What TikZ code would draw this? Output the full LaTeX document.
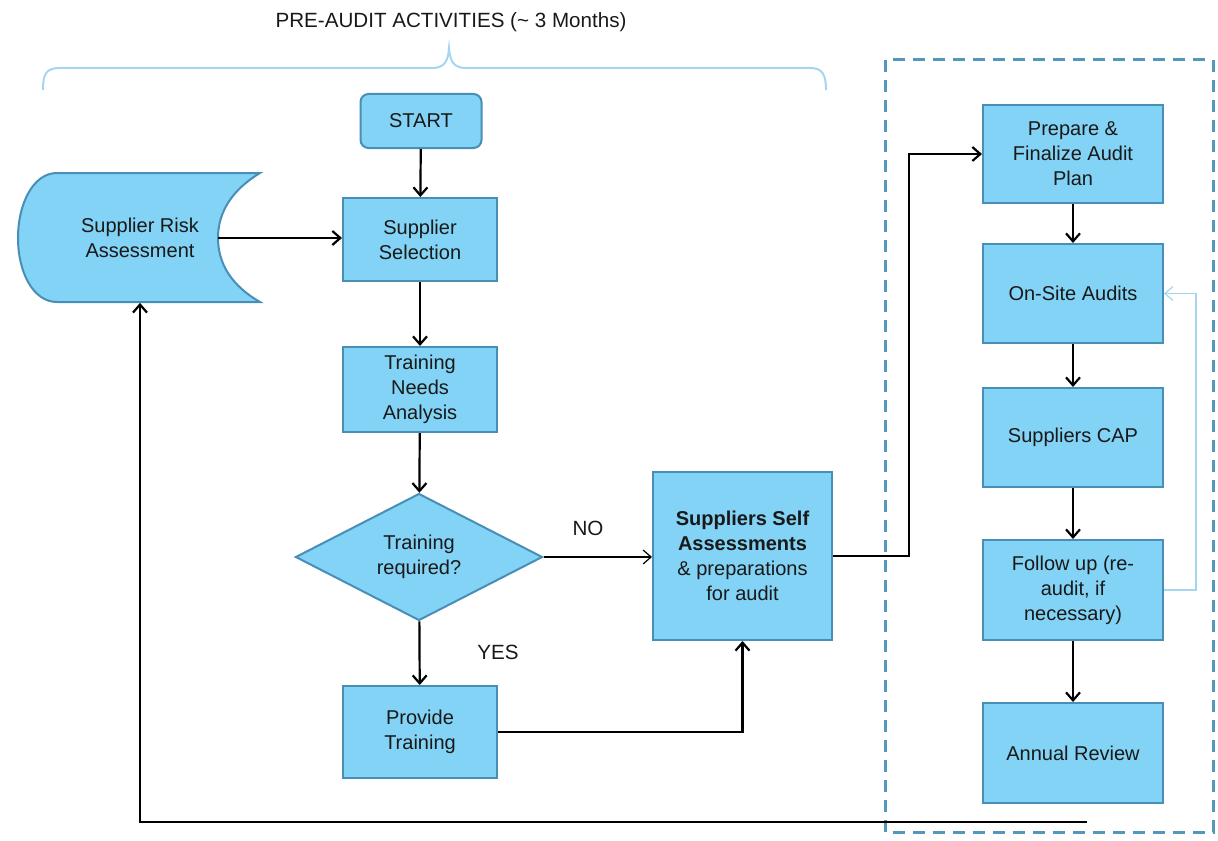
\documentclass[tikz,border=0pt]{standalone}
\usepackage{fontspec}
\setmainfont{Liberation Sans}
\usetikzlibrary{shapes.geometric,arrows.meta,calc}
\definecolor{boxfill}{RGB}{130,211,245}
\definecolor{boxline}{RGB}{72,142,182}
\definecolor{dashcol}{RGB}{84,150,188}
\definecolor{lightline}{RGB}{165,214,240}
\begin{document}
\begin{tikzpicture}[x=0.5pt,y=-0.5pt,
  every node/.style={font=\fontsize{10}{12.5}\selectfont, align=center, text=black!90},
  box/.style={draw=boxline, fill=boxfill, line width=1pt, inner sep=0pt},
  colbox/.style={box, minimum width=77pt},
  rbox/.style={box, minimum width=90pt, minimum height=49.5pt},
  arr/.style={line width=1.1pt, -{Straight Barb[length=4pt,width=7pt]}},
  thinarr/.style={line width=0.6pt, -{Straight Barb[length=4pt,width=7pt]}},
  lightarr/.style={draw=lightline, line width=0.6pt, -{Straight Barb[length=4pt,width=7pt]}},
  lbl/.style={font=\fontsize{10.3}{12}\selectfont}]
\useasboundingbox (0,0) rectangle (1218,840);

% title and brace
\node[lbl] (title) at (451,22) {PRE-AUDIT ACTIVITIES (\textasciitilde{} 3 Months)};
\draw[lightline, line width=1pt] (43,90) .. controls (43,74) and (46,68) .. (60,68) -- (432,68)
  .. controls (444,68) and (448,62) .. (449,48)
  .. controls (450,62) and (454,68) .. (466,68) -- (810,68)
  .. controls (822,68) and (826,74) .. (826,90);

% dashed audit area
\draw[dashcol, line width=1.5pt, dash pattern=on 6pt off 4pt] (885,60) rectangle (1213,832);

% supplier risk assessment shape
\draw[box] (57,173) -- (260,173) .. controls (232,190) and (218,212) .. (218,238)
  .. controls (218,264) and (232,286) .. (260,302) -- (57,302)
  .. controls (33,302) and (18,272) .. (18,238)
  .. controls (18,204) and (33,173) .. (57,173) -- cycle;
\node[minimum width=78pt, minimum height=64.5pt, inner sep=0pt] (sra) at (140,238) {Supplier Risk\\Assessment};

% middle column
\node[box, rounded corners=4pt, minimum width=60.5pt, minimum height=27pt] (start) at (421,121) {START};
\node[colbox, minimum height=41.5pt] (sel) at (420,239.5) {Supplier\\Selection};
\node[colbox, minimum height=42.5pt] (tna) at (420,389.5) {Training\\Needs\\Analysis};
\node[box, shape=diamond, aspect=2, minimum width=123.5pt, minimum height=63.5pt] (dec) at (419,557) {Training\\required?};
\node[colbox, minimum height=46pt] (prov) at (420,732) {Provide\\Training};
\node[box, minimum width=89.5pt, minimum height=84pt] (self) at (742.5,556) {\textbf{Suppliers Self}\\\textbf{Assessments}\\\& preparations\\for audit};

% right column
\node[rbox, minimum height=49pt] (prep) at (1073,154) {Prepare \&\\Finalize Audit\\Plan};
\node[rbox] (onsite) at (1073,293.5) {On-Site Audits};
\node[rbox] (cap) at (1073,437.5) {Suppliers CAP};
\node[rbox, minimum height=50pt] (fol) at (1073,590) {Follow up (re-\\audit, if\\necessary)};
\node[rbox, minimum height=50pt] (ann) at (1073,753) {Annual Review};

% labels
\node[lbl] (no) at (588,528) {NO};
\node[lbl] (yes) at (498,652) {YES};

% connectors
\draw[arr] (start) -- (sel);
\draw[arr] (sra.east) -- (sra.east -| sel.west);
\draw[arr] (sel) -- (tna);
\draw[arr] (tna) -- (dec);
\draw[arr] (dec) -- (prov);
\draw[thinarr] (dec.east) -- (self.west |- dec.east);
\draw[arr] (prov.east) -| (self.south);
\draw[arr] (self.east) -- ++(76,0) |- (prep.west);
\draw[arr] (prep) -- (onsite);
\draw[arr] (onsite) -- (cap);
\draw[arr] (cap) -- (fol);
\draw[arr] (fol) -- (ann);
\draw[lightarr] (fol.east) -- ++(32,0) |- (onsite.east);
\coordinate (loopend) at (1087,822);
\draw[arr] (loopend) -| (sra.south);
\end{tikzpicture}
\end{document}
